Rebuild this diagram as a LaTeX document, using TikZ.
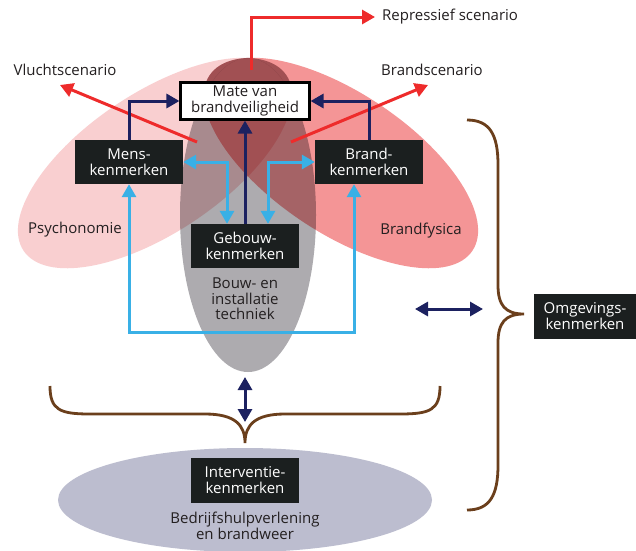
\documentclass[tikz,border=0pt]{standalone}
\usepackage{fontspec}
\setmainfont{Open Sans}
\usepackage{tikz}
\usetikzlibrary{arrows.meta}
\definecolor{boxdark}{RGB}{27,31,31}
\definecolor{textdark}{RGB}{35,31,32}
\definecolor{navy}{RGB}{28,33,96}
\definecolor{skyblue}{RGB}{57,176,230}
\definecolor{firered}{RGB}{238,43,43}
\definecolor{bracebrown}{RGB}{107,63,28}
\definecolor{psychopink}{RGB}{249,207,208}
\definecolor{fysicared}{RGB}{244,149,150}
\definecolor{bouwgray}{RGB}{173,171,175}
\definecolor{intervlila}{RGB}{188,189,207}
\tikzstyle{kenmerk} = [rectangle, fill=boxdark, text=white, minimum width=108pt, minimum height=44pt, inner sep=0pt, align=center, font=\fontsize{15}{15.5}\selectfont]
\tikzstyle{matebox} = [rectangle, draw=black, line width=2.6pt, fill=white, text=textdark, minimum width=128.5pt, minimum height=36.5pt, inner sep=0pt, align=center, font=\fontsize{15}{15.5}\selectfont]
\tikzstyle{tekst} = [align=center, text=textdark, inner sep=0pt, font=\fontsize{15}{15.5}\selectfont]
\tikzstyle{redarrow} = [draw=firered, line width=3pt, -{Triangle[length=13pt,width=14pt]}]
\tikzstyle{navyarrow} = [draw=navy, line width=3pt, -{Triangle[length=13pt,width=14pt]}]
\tikzstyle{navydouble} = [draw=navy, line width=3pt, {Triangle[length=13pt,width=14pt]}-{Triangle[length=13pt,width=14pt]}]
\tikzstyle{bluearrow} = [draw=skyblue, line width=3pt, {Triangle[length=13pt,width=14pt]}-{Triangle[length=13pt,width=14pt]}]
\tikzstyle{accolade} = [draw=bracebrown, line width=2.8pt]
\begin{document}
\begin{tikzpicture}[x=1pt, y=-1pt]
\useasboundingbox[fill=white] (0,0) rectangle (636,550);

\fill[intervlila] (245,500) ellipse [x radius=187pt, y radius=52pt];
\begin{scope}[blend mode=multiply]
  \fill[psychopink, rotate around={33.7:(155,163)}] (155,163) ellipse [x radius=158pt, y radius=70pt];
  \fill[fysicared, rotate around={-33.7:(341,163)}] (341,163) ellipse [x radius=158pt, y radius=70pt];
  \fill[bouwgray] (248,215) ellipse [x radius=68pt, y radius=157pt];
  \begin{scope}
    \clip[rotate around={33.7:(155,163)}] (155,163) ellipse [x radius=158pt, y radius=70pt];
    \clip[rotate around={-33.7:(341,163)}] (341,163) ellipse [x radius=158pt, y radius=70pt];
    \fill[bouwgray, even odd rule] (0,0) rectangle (636,550) (248,215) ellipse [x radius=68pt, y radius=157pt];
  \end{scope}
\end{scope}

\node[matebox] (mate) at (245,101) {Mate van\\brandveiligheid};
\node[kenmerk] (mens) at (129,162) {Mens-\\kenmerken};
\node[kenmerk] (brand) at (369,162) {Brand-\\kenmerken};
\node[kenmerk] (gebouw) at (245,246) {Gebouw-\\kenmerken};
\node[kenmerk, minimum height=45pt] (interventie) at (245,480) {Interventie-\\kenmerken};
\node[kenmerk, minimum width=102pt, minimum height=45pt] (omgeving) at (585,316) {Omgevings-\\kenmerken};

\node[tekst] (vlucht) at (65,70) {Vluchtscenario};
\node[tekst, anchor=west, inner sep=7pt] (repressief) at (375,17) {Repressief scenario};
\node[tekst] (brandscen) at (432,70) {Brandscenario};
\node[tekst] (psycho) at (75,230) {Psychonomie};
\node[tekst] (fysica) at (421,231) {Brandfysica};
\node[tekst] (bouw) at (245,299) {Bouw- en\\installatie\\techniek};
\node[tekst] (bhv) at (245,526) {Bedrijfshulpverlening\\en brandweer};

\coordinate (redtop) at (251,70);
\coordinate (vluchtstart) at (197,142);
\coordinate (vluchtend) at (60,85);
\coordinate (brandstart) at (291,142);
\coordinate (brandend) at (428,85);
\coordinate (bluel) at (129,332);
\coordinate (bluer) at (354,332);
\coordinate (bouwbottom) at (245,377);
\coordinate (bracetip) at (245,422);
\coordinate (omgl) at (415,309);
\coordinate (omgr) at (483,309);

\draw[redarrow] (redtop) |- (repressief.west);
\draw[redarrow] (vluchtstart) -- (vluchtend);
\draw[redarrow] (brandstart) -- (brandend);
\draw[navyarrow] (mens.north) |- (mate.west);
\draw[navyarrow] (brand.north) |- (mate.east);
\draw[navyarrow] (gebouw.north) -- (mate.south);
\draw[bluearrow] (mens.east) -| ([xshift=-18pt]gebouw.north);
\draw[bluearrow] (brand.west) -| ([xshift=23pt]gebouw.north);
\draw[bluearrow] (mens.south) -- (bluel) -- (bluer) -- (bluer |- brand.south);
\draw[navydouble] (bouwbottom) -- (bracetip);
\draw[navydouble] (omgl) -- (omgr);

\draw[accolade] (50,386) .. controls (50,410) and (60,414) .. (90,414) -- (205,414) .. controls (235,414) and (245,425) .. (245,443)
  .. controls (245,425) and (255,414) .. (285,414) -- (400,414) .. controls (430,414) and (440,410) .. (440,386);
\draw[accolade] (467,120) .. controls (490,120) and (498,135) .. (498,165) -- (498,285) .. controls (498,305) and (505,314) .. (524,314)
  .. controls (505,314) and (498,323) .. (498,343) -- (498,465) .. controls (498,495) and (490,510) .. (467,510);
\end{tikzpicture}
\end{document}
